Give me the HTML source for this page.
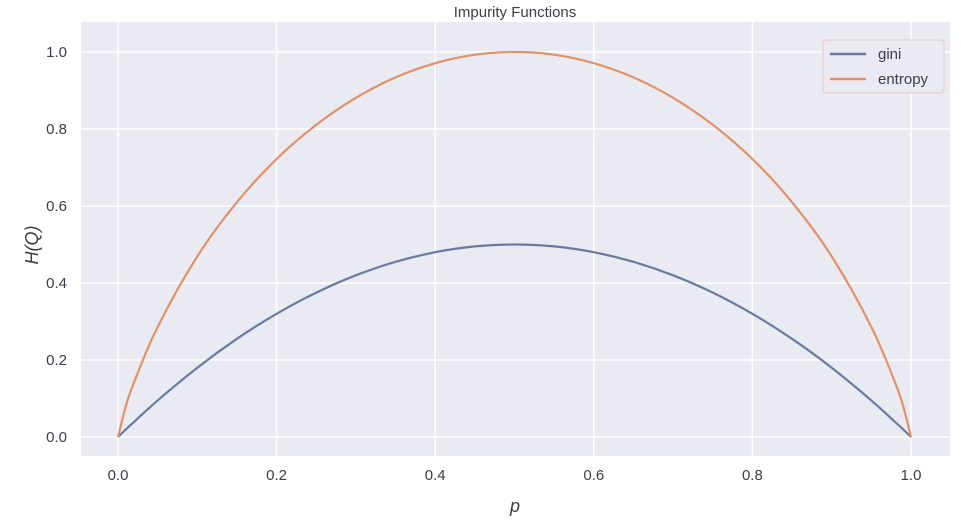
<!DOCTYPE html>
<html><head><meta charset="utf-8"><style>
body{margin:0;background:#fff;width:962px;height:527px;overflow:hidden}
text{font-family:"Liberation Sans",sans-serif;fill:#3c3c4a}
</style></head><body>
<svg id="chart" width="962" height="527" xmlns="http://www.w3.org/2000/svg">
<rect x="81" y="22" width="869" height="434" fill="#eaeaf2"/>
<g id="grid"></g><g id="lines"></g><g id="ticks"></g>
<text x="515" y="17" font-size="15" text-anchor="middle">Impurity Functions</text>
<text x="515" y="512" font-size="18" font-style="italic" text-anchor="middle">p</text>
<text transform="translate(38,245) rotate(-90)" font-size="18" font-style="italic" text-anchor="middle">H(Q)</text>
<g>
<rect x="823" y="40" width="121" height="53" rx="3" fill="#eaeaf2" stroke="#e8c8c0" stroke-width="1"/>
<g><line x1="830" y1="54" x2="866" y2="54" stroke="#6a7ba0" stroke-width="2.5"/><text x="878" y="59" font-size="15">gini</text></g>
<g><line x1="830" y1="79" x2="866" y2="79" stroke="#e0926a" stroke-width="2.5"/><text x="878" y="84" font-size="15">entropy</text></g>
</g>
</svg>
<script>
const pValues=[0,0.01,0.02,0.05,0.1,0.15,0.2,0.25,0.3,0.35,0.4,0.45,0.5,0.55,0.6,0.65,0.7,0.75,0.8,0.85,0.9,0.95,0.98,0.99,1];
const giniValues=[0,0.02,0.039,0.095,0.18,0.255,0.32,0.375,0.42,0.455,0.48,0.495,0.5,0.495,0.48,0.455,0.42,0.375,0.32,0.255,0.18,0.095,0.039,0.02,0];
const entropyValues=[0,0.081,0.141,0.286,0.469,0.61,0.722,0.811,0.881,0.934,0.971,0.993,1,0.993,0.971,0.934,0.881,0.811,0.722,0.61,0.469,0.286,0.141,0.081,0];
const xTicks=[0,0.2,0.4,0.6,0.8,1.0];
const yTicks=[0,0.2,0.4,0.6,0.8,1.0];
const NS="http://www.w3.org/2000/svg";
const xs=v=>118+v*(911-118), ys=v=>437-v*(437-52);
const grid=document.getElementById('grid'),ticks=document.getElementById('ticks'),lines=document.getElementById('lines');
function mk(t,a,parent){const e=document.createElementNS(NS,t);for(const k in a)e.setAttribute(k,a[k]);parent.appendChild(e);return e;}
xTicks.forEach(v=>{
 const l=mk('line',{x1:xs(v),x2:xs(v),y1:22,y2:456,stroke:'#fff','stroke-width':1.5},grid);
 
 
 const t=mk('text',{x:xs(v),y:480,'font-size':15,'text-anchor':'middle'},ticks);t.textContent=v.toFixed(1);
 
 
});
yTicks.forEach(v=>{
 const l=mk('line',{x1:81,x2:950,y1:ys(v),y2:ys(v),stroke:'#fff','stroke-width':1.5},grid);
 
 
 const t=mk('text',{x:67,y:ys(v)+5,'font-size':15,'text-anchor':'end'},ticks);t.textContent=v.toFixed(1);
 
 
});
function series(vals,color,name){
 const pts=pValues.map((p,i)=>[xs(p),ys(vals[i])]);
 let d='M'+pts[0][0].toFixed(1)+','+pts[0][1].toFixed(1);
 for(let i=0;i<pts.length-1;i++){
  const p0=pts[Math.max(0,i-1)],p1=pts[i],p2=pts[i+1],p3=pts[Math.min(pts.length-1,i+2)];
  const c1=[p1[0]+(p2[0]-p0[0])/6,p1[1]+(p2[1]-p0[1])/6];
  const c2=[p2[0]-(p3[0]-p1[0])/6,p2[1]-(p3[1]-p1[1])/6];
  d+=' C'+c1.map(n=>n.toFixed(1)).join(',')+' '+c2.map(n=>n.toFixed(1)).join(',')+' '+p2.map(n=>n.toFixed(1)).join(',');
 }
 const e=mk('path',{d:d,fill:'none',stroke:color,'stroke-width':2.2,'stroke-linejoin':'round'},lines);
 
 
}
series(giniValues,'#6a7ba0','gini-line');
series(entropyValues,'#e0926a','entropy-line');
</script>
</body></html>
